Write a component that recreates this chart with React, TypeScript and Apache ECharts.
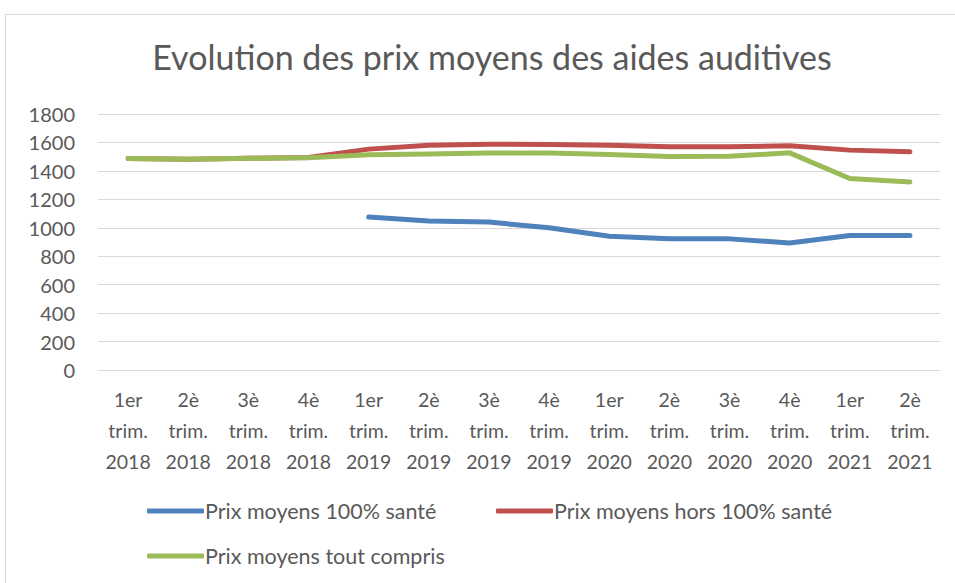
import React, { useEffect, useRef } from "react";
import * as echarts from "echarts";

const categories = [
  "1er\ntrim.\n2018", "2è\ntrim.\n2018", "3è\ntrim.\n2018", "4è\ntrim.\n2018",
  "1er\ntrim.\n2019", "2è\ntrim.\n2019", "3è\ntrim.\n2019", "4è\ntrim.\n2019",
  "1er\ntrim.\n2020", "2è\ntrim.\n2020", "3è\ntrim.\n2020", "4è\ntrim.\n2020",
  "1er\ntrim.\n2021", "2è\ntrim.\n2021",
];
const sante100 = [null, null, null, null, 1075, 1047, 1040, 1000, 941, 922, 922, 893, 946, 946];
const horsSante = [1487, 1482, 1489, 1495, 1553, 1581, 1588, 1586, 1581, 1569, 1569, 1576, 1546, 1534];
const toutCompris = [1487, 1481, 1489, 1492, 1513, 1518, 1525, 1525, 1515, 1501, 1503, 1527, 1346, 1322];
const seriesNames = ["Prix moyens 100% santé", "Prix moyens hors 100% santé", "Prix moyens tout compris"];
const colors = ["#4F81BD", "#C0504D", "#9BBB59"];
const titleText = "Evolution des prix moyens des aides auditives";

const FONT = "Lato, 'Noto Sans', sans-serif";

export default function App() {
  const ref = useRef<HTMLDivElement>(null);
  useEffect(() => {
    document.body.style.margin = "0";
    const chart = echarts.init(ref.current!, null, { renderer: "svg" });
    const legendBase = {
      orient: "horizontal",
      itemWidth: 57,
      itemHeight: 5,
      itemGap: 0,
      icon: "roundRect",
      textStyle: { color: "#595959", fontSize: 21.5, fontFamily: FONT, padding: [0, 0, 0, -4] },
      padding: 0,
    };
    chart.setOption({
      animation: false,
      backgroundColor: "#fff",
      textStyle: { fontFamily: FONT },
      title: {
        text: titleText,
        left: 487,
        top: 34,
        textAlign: "center",
        textStyle: { color: "#595959", fontSize: 34, fontWeight: "normal", fontFamily: FONT },
      },
      graphic: [
        {
          type: "rect",
          shape: { x: 5.5, y: 14.5, width: 1000, height: 700 },
          style: { fill: "none", stroke: "#D9D9D9", lineWidth: 1 },
          silent: true,
        },
      ],
      legend: [
        { ...legendBase, data: [seriesNames[0]], left: 147, top: 500 },
        { ...legendBase, data: [seriesNames[1]], left: 496, top: 500 },
        { ...legendBase, data: [seriesNames[2]], left: 147, top: 545 },
      ],
      grid: { left: 98, right: 15, top: 114, bottom: 213 },
      xAxis: {
        type: "category",
        data: categories,
        boundaryGap: true,
        axisLine: { lineStyle: { color: "#D9D9D9", width: 1 } },
        axisTick: { show: false },
        axisLabel: {
          color: "#595959",
          fontSize: 19.5,
          lineHeight: 31,
          margin: 14,
          interval: 0,
          fontFamily: FONT,
        },
      },
      yAxis: {
        type: "value",
        min: 0,
        max: 1800,
        interval: 200,
        axisLine: { show: false },
        axisTick: { show: false },
        splitLine: { lineStyle: { color: "#D9D9D9", width: 1 } },
        axisLabel: {
          color: "#595959",
          fontSize: 20,
          margin: 23,
          fontFamily: FONT,
          formatter: (v: number) => String(v),
        },
      },
      series: [
        { name: seriesNames[0], data: sante100, color: colors[0] },
        { name: seriesNames[1], data: horsSante, color: colors[1] },
        { name: seriesNames[2], data: toutCompris, color: colors[2] },
      ].map((s) => ({
        ...s,
        type: "line",
        symbol: "none",
        connectNulls: false,
        lineStyle: { width: 5, color: s.color, cap: "round", join: "round" },
        itemStyle: { color: s.color },
      })),
    });
    return () => chart.dispose();
  }, []);
  return <div ref={ref} style={{ width: 955, height: 583 }} />;
}
